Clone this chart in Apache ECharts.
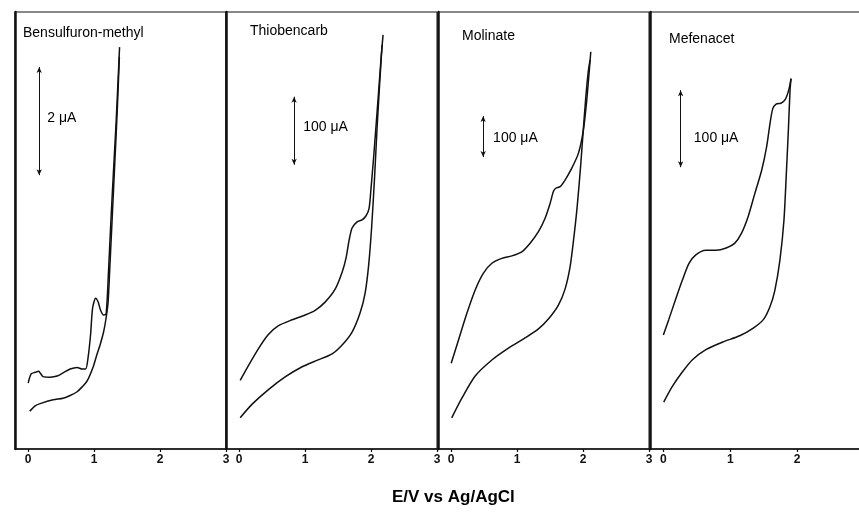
<!DOCTYPE html>
<html>
<head>
<meta charset="utf-8">
<script src="https://cdn.jsdelivr.net/npm/echarts@6/dist/echarts.min.js"></script>
<style>
html,body{margin:0;padding:0;background:#fff;}
#chart{width:859px;height:523px;}
</style>
</head>
<body>
<div id="chart"></div>
<script>
// ---- Data (E in V vs Ag/AgCl, I in µA relative to panel baseline) ----
const xTickValues = [0, 1, 2, 3];
const panelNames = ['Bensulfuron-methyl', 'Thiobencarb', 'Molinate', 'Mefenacet'];
const axisTitle = 'E/V vs Ag/AgCl';

const bensulfuronForward = [[0.00,1.22],[0.045,1.39],[0.106,1.42],[0.159,1.44],[0.18,1.41],[0.227,1.34],[0.333,1.33],[0.439,1.35],[0.53,1.41],[0.636,1.48],[0.742,1.51],[0.818,1.48],[0.871,1.48],[0.909,1.70],[0.947,2.13],[0.977,2.61],[1.023,2.79],[1.061,2.72],[1.098,2.57],[1.144,2.48],[1.182,2.50],[1.217,3.26],[1.253,4.19],[1.292,5.11],[1.333,6.04],[1.368,6.96],[1.386,7.44]];
const bensulfuronReverse = [[0.023,0.70],[0.106,0.80],[0.182,0.84],[0.379,0.91],[0.53,0.94],[0.636,0.99],[0.742,1.06],[0.818,1.15],[0.894,1.26],[0.985,1.52],[1.045,1.76],[1.091,1.93],[1.144,2.17],[1.182,2.43],[1.212,2.72],[1.242,3.46],[1.28,4.43],[1.318,5.41],[1.353,6.33],[1.383,7.26]];

const thiobencarbForward = [[0.015,101],[0.136,122],[0.288,147],[0.439,168],[0.591,181],[0.803,190],[1.0,197],[1.152,204],[1.303,216],[1.455,235],[1.561,260],[1.621,281],[1.667,307],[1.712,325],[1.788,334],[1.864,337],[1.924,343],[1.97,354],[2.0,384],[2.038,428],[2.076,476],[2.114,525],[2.152,575],[2.182,609]];
const thiobencarbReverse = [[0.015,46],[0.197,66],[0.439,87],[0.697,106],[0.955,121],[1.197,131],[1.409,140],[1.561,153],[1.712,172],[1.833,200],[1.909,229],[1.962,269],[2.008,325],[2.053,399],[2.091,472],[2.129,535],[2.167,594]];

const molinateForward = [[0.0,209],[0.111,266],[0.238,331],[0.364,388],[0.489,429],[0.617,453],[0.768,465],[0.92,471],[1.071,481],[1.197,502],[1.323,530],[1.424,563],[1.5,599],[1.55,628],[1.586,636],[1.652,640],[1.727,656],[1.829,685],[1.929,721],[2.005,778],[2.056,851],[2.091,916],[2.117,969]];
const molinateReverse = [[0.008,76],[0.162,124],[0.364,178],[0.617,217],[0.868,246],[1.121,271],[1.323,293],[1.474,317],[1.626,351],[1.727,390],[1.803,444],[1.856,510],[1.909,588],[1.962,688],[2.0,771],[2.038,851],[2.076,917],[2.106,949]];

const mefenacetForward = [[0.0,148],[0.08,168],[0.182,194],[0.283,219],[0.383,241],[0.485,252],[0.636,258],[0.788,258],[0.939,261],[1.065,267],[1.167,280],[1.268,302],[1.368,332],[1.47,362],[1.545,393],[1.595,423],[1.636,442],[1.686,448],[1.758,449],[1.823,454],[1.874,466],[1.909,481]];
const mefenacetReverse = [[0.005,61],[0.132,81],[0.283,100],[0.435,116],[0.636,129],[0.889,139],[1.141,147],[1.344,157],[1.495,168],[1.595,185],[1.667,206],[1.742,245],[1.803,297],[1.841,362],[1.871,418],[1.894,466],[1.909,481]];

// scale bars: E position, lower current, span, label text, label E, label current
const scaleBarE = [0.167, 0.833, 0.485, 0.258];
const scaleBarLow = [5.07, 418, 712, 366];
const scaleBarSpan = [2, 100, 100, 100];
const scaleBarText = ['2 μA', '100 μA', '100 μA', '100 μA'];
const scaleLabelE = [0.29, 0.97, 0.636, 0.455];
const scaleLabelI = [6.13, 474, 759, 404];

// current range shown in each panel (µA)
const panelCurrentMax = [8.09, 642.6, 1065.9, 567.5];

const forwardScans = [bensulfuronForward, thiobencarbForward, molinateForward, mefenacetForward];
const reverseScans = [bensulfuronReverse, thiobencarbReverse, molinateReverse, mefenacetReverse];

// ---- Layout / style ----
const FONT = "'Liberation Sans', Arial, Helvetica, sans-serif";
const gridLefts = [15, 226, 438, 650];
const gridWidths = [211, 211, 211, 214];
const titlePos = [[23, 26], [250, 24], [462, 29], [669, 32]];
const INK = '#111';

const grids = [], xAxes = [], yAxes = [], series = [], titles = [];
for (let i = 0; i < 4; i++) {
  grids.push({left: gridLefts[i], top: 12, width: gridWidths[i], height: 437, show: true,
    borderColor: INK, borderWidth: 1, backgroundColor: 'transparent', containLabel: false,
    outerBoundsMode: 'none'});
  xAxes.push({type: 'value', gridIndex: i, min: -0.2, max: 3,
    axisLine: {show: true, onZero: false, lineStyle: {color: INK, width: 1.5}},
    axisTick: {show: true, customValues: xTickValues, length: 3, lineStyle: {color: INK, width: 1.2}},
    axisLabel: {show: true, customValues: xTickValues, color: INK, fontFamily: FONT, fontSize: 12, fontWeight: 'bold', margin: 5},
    splitLine: {show: false}});
  yAxes.push({type: 'value', gridIndex: i, min: 0, max: panelCurrentMax[i],
    axisLine: {show: true, onZero: false, lineStyle: {color: INK, width: 2.5}},
    axisTick: {show: false}, axisLabel: {show: false}, splitLine: {show: false}});
  const lineCommon = {type: 'line', xAxisIndex: i, yAxisIndex: i, showSymbol: false, smooth: 0.25,
    lineStyle: {color: INK, width: 1.5}, animation: false, silent: true};
  series.push(Object.assign({}, lineCommon, {data: forwardScans[i]}));
  series.push(Object.assign({}, lineCommon, {data: reverseScans[i]}));
  series.push({type: 'scatter', xAxisIndex: i, yAxisIndex: i, symbolSize: 0, silent: true, animation: false,
    itemStyle: {opacity: 1},
    data: [[scaleLabelE[i], scaleLabelI[i]]],
    label: {show: true, position: 'right', distance: 0, formatter: scaleBarText[i], color: '#000', opacity: 1,
      textBorderWidth: 0, fontFamily: FONT, fontSize: 14},
    markLine: {silent: true, animation: false, symbol: ['arrow', 'arrow'], symbolSize: [4, 6],
      lineStyle: {color: INK, width: 1, type: 'solid'}, label: {show: false},
      data: [[{coord: [scaleBarE[i], scaleBarLow[i]]}, {coord: [scaleBarE[i], scaleBarLow[i] + scaleBarSpan[i]]}]]}
  });
  titles.push({text: panelNames[i], left: titlePos[i][0], top: titlePos[i][1], padding: 0,
    textStyle: {color: '#000', fontFamily: FONT, fontSize: 14, fontWeight: 'normal'}});
}
titles.push({text: axisTitle, left: 392, top: 489, padding: 0,
  textStyle: {color: '#000', fontFamily: FONT, fontSize: 17, fontWeight: 'bold'}});

const chart = echarts.init(document.getElementById('chart'), null, {renderer: 'canvas'});
chart.setOption({backgroundColor: '#fff', animation: false, title: titles, grid: grids, xAxis: xAxes, yAxis: yAxes, series: series});
</script>
</body>
</html>
